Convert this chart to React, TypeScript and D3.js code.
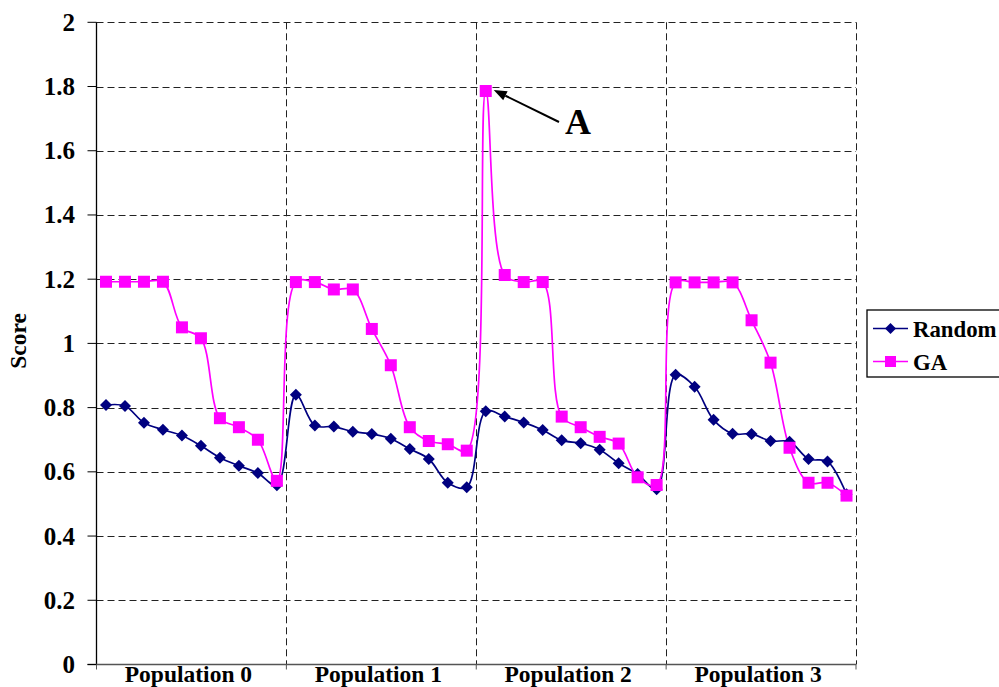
import React from "react";
import * as d3 from "d3";

const categories = ["Population 0", "Population 1", "Population 2", "Population 3"];

// Ten samples per population, populations in order 0..3
const randomScores = [
  0.808, 0.805, 0.753, 0.731, 0.713, 0.681, 0.644, 0.619, 0.596, 0.558,
  0.840, 0.744, 0.741, 0.725, 0.718, 0.703, 0.671, 0.640, 0.566, 0.552,
  0.789, 0.772, 0.754, 0.730, 0.698, 0.689, 0.669, 0.627, 0.593, 0.546,
  0.902, 0.865, 0.762, 0.719, 0.718, 0.696, 0.694, 0.640, 0.632, 0.530,
];

const gaScores = [
  1.192, 1.192, 1.192, 1.192, 1.050, 1.016, 0.767, 0.739, 0.700, 0.572,
  1.191, 1.191, 1.168, 1.168, 1.045, 0.932, 0.739, 0.696, 0.686, 0.666,
  1.786, 1.213, 1.191, 1.191, 0.772, 0.739, 0.709, 0.688, 0.583, 0.559,
  1.190, 1.190, 1.190, 1.190, 1.072, 0.940, 0.675, 0.566, 0.566, 0.526,
];

const yTicks = [0, 0.2, 0.4, 0.6, 0.8, 1, 1.2, 1.4, 1.6, 1.8, 2];

const seriesNames = ["Random", "GA"];

const W = 999;
const H = 687;
const left = 96.5;
const right = 856;
const top = 22.3;
const bottom = 664.5;

const FONT = "'Liberation Serif', 'Times New Roman', serif";
const NAVY = "#000080";
const MAGENTA = "#FF00FF";

export default function App() {
  const idx = d3.range(randomScores.length);
  const x = d3.scaleBand<number>().domain(idx).range([left, right]);
  const xc = (i: number) => (x(i) as number) + x.bandwidth() / 2;
  const cat = d3.scaleBand<string>().domain(categories).range([left, right]);
  const y = d3.scaleLinear().domain([0, 2]).range([bottom, top]);

  const line = d3
    .line<number>()
    .x((_, i) => xc(i))
    .y((d) => y(d))
    .curve(d3.curveCatmullRom.alpha(0.5));

  const diamond = (cx: number, cy: number, r = 6) =>
    `M${cx},${cy - r}L${cx + r},${cy}L${cx},${cy + r}L${cx - r},${cy}Z`;

  const SQ = 12;

  const peakIdx = gaScores.indexOf(d3.max(gaScores) as number);
  const peakX = xc(peakIdx);
  const peakY = y(gaScores[peakIdx]);
  const tipX = peakX + 8;
  const tipY = peakY - 1;
  const tailX = 559;
  const tailY = 122;
  const ang = Math.atan2(tailY - tipY, tailX - tipX);
  const headLen = 13;
  const headW = 5;
  const bx = tipX + headLen * Math.cos(ang);
  const by = tipY + headLen * Math.sin(ang);
  const px = -Math.sin(ang) * headW;
  const py = Math.cos(ang) * headW;

  const legendX = 867;
  const legendY = 310;
  const rowY = [328.5, 361.5];

  const textStyle = { fontFamily: FONT, fontWeight: 700 } as const;

  return (
    <svg
      width={W}
      height={H}
      style={{ position: "absolute", left: 0, top: 0, display: "block", background: "#fff" }}
      fontFamily={FONT}
    >
      {/* horizontal grid */}
      {yTicks.filter((t) => t > 0).map((t) => (
        <line
          key={"h" + t}
          x1={left}
          x2={right}
          y1={Math.round(y(t)) + 0.5}
          y2={Math.round(y(t)) + 0.5}
          stroke="#222"
          strokeWidth={1}
          strokeDasharray="7,4"
        />
      ))}
      {/* vertical grid at category boundaries */}
      {categories.map((c) => {
        const xx = Math.round((cat(c) as number) + cat.bandwidth()) + 0.5;
        return (
          <line
            key={"v" + c}
            x1={xx}
            x2={xx}
            y1={top}
            y2={bottom}
            stroke="#222"
            strokeWidth={1}
            strokeDasharray="7,4"
          />
        );
      })}

      {/* axes */}
      <line x1={left} x2={left} y1={top} y2={bottom} stroke="#000" strokeWidth={1.3} />
      <line x1={left - 9} x2={right} y1={bottom} y2={bottom} stroke="#555" strokeWidth={1.5} />
      {yTicks.map((t) => (
        <g key={"t" + t}>
          <line x1={left - 9} x2={left} y1={y(t)} y2={y(t)} stroke="#000" strokeWidth={1} />
          <text
            x={75}
            y={y(t) + 8.5}
            textAnchor="end"
            fontSize={25}
            style={textStyle}
            fill="#000"
          >
            {String(t)}
          </text>
        </g>
      ))}
      {[left, ...categories.map((c) => (cat(c) as number) + cat.bandwidth())].map((xx, i) => (
        <line key={"xt" + i} x1={xx} x2={xx} y1={bottom} y2={bottom + 5} stroke="#555" strokeWidth={1} />
      ))}
      {categories.map((c) => (
        <text
          key={"xl" + c}
          x={(cat(c) as number) + cat.bandwidth() / 2 - 3}
          y={682}
          textAnchor="middle"
          fontSize={23.5}
          style={textStyle}
          fill="#000"
        >
          {c}
        </text>
      ))}
      <text
        transform={`translate(26,341) rotate(-90)`}
        textAnchor="middle"
        fontSize={23.5}
        style={textStyle}
        fill="#000"
      >
        Score
      </text>

      {/* series lines */}
      <path d={line(randomScores) || ""} fill="none" stroke={NAVY} strokeWidth={1.7} />
      <path d={line(gaScores) || ""} fill="none" stroke={MAGENTA} strokeWidth={1.7} />

      {/* markers */}
      {randomScores.map((v, i) => (
        <path key={"rm" + i} d={diamond(xc(i), y(v))} fill={NAVY} />
      ))}
      {gaScores.map((v, i) => (
        <rect key={"gm" + i} x={xc(i) - SQ / 2} y={y(v) - SQ / 2} width={SQ} height={SQ} fill={MAGENTA} />
      ))}

      {/* annotation for the peak */}
      <line x1={tailX} y1={tailY} x2={bx} y2={by} stroke="#000" strokeWidth={2} />
      <path
        d={`M${tipX},${tipY}L${bx + px},${by + py}L${bx - px},${by - py}Z`}
        fill="#000"
      />
      <text x={565} y={134} fontSize={36} style={textStyle} fill="#000">
        A
      </text>

      {/* legend */}
      <rect x={legendX} y={legendY} width={150} height={67} fill="#fff" stroke="#000" strokeWidth={1.3} />
      {seriesNames.map((name, i) => (
        <g key={"lg" + name}>
          <line
            x1={873}
            x2={908}
            y1={rowY[i]}
            y2={rowY[i]}
            stroke={i === 0 ? NAVY : MAGENTA}
            strokeWidth={1.7}
          />
          {i === 0 ? (
            <path d={diamond(890.5, rowY[i], 5.5)} fill={NAVY} />
          ) : (
            <rect x={885} y={rowY[i] - 5.5} width={11} height={11} fill={MAGENTA} />
          )}
          <text x={913} y={rowY[i] + 8} fontSize={22.8} style={textStyle} fill="#000">
            {name}
          </text>
        </g>
      ))}
    </svg>
  );
}
